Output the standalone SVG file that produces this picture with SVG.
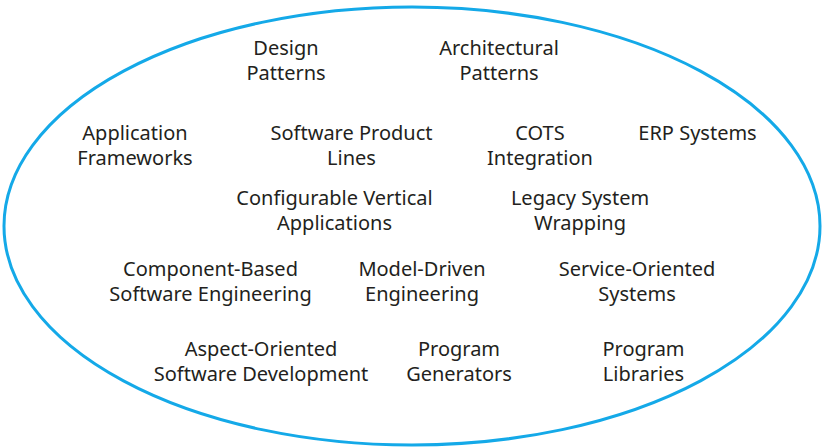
<svg xmlns="http://www.w3.org/2000/svg" width="824" height="447" viewBox="0 0 824 447">
<style>
.t{font-family:"Noto Sans","Open Sans",sans-serif;font-size:20px;fill:#231f20;text-anchor:middle}
.e{fill:none;stroke:#14a9e8;stroke-width:3}
</style>
<rect width="824" height="447" fill="#fff"/>
<g id="boundary"><ellipse class="e" cx="412" cy="226" rx="408" ry="219"/></g>
<g id="design-patterns"><text class="t" x="286" y="55">Design</text><text class="t" x="286" y="80">Patterns</text></g>
<g id="architectural-patterns"><text class="t" x="499" y="55">Architectural</text><text class="t" x="499" y="80">Patterns</text></g>
<g id="application-frameworks"><text class="t" x="135" y="140">Application</text><text class="t" x="135" y="165">Frameworks</text></g>
<g id="software-product-lines"><text class="t" x="351.5" y="140">Software Product</text><text class="t" x="351.5" y="165">Lines</text></g>
<g id="cots-integration"><text class="t" x="540" y="140">COTS</text><text class="t" x="540" y="165">Integration</text></g>
<g id="erp-systems"><text class="t" x="697.5" y="140">ERP Systems</text></g>
<g id="configurable-vertical-applications"><text class="t" x="334.5" y="205">Configurable Vertical</text><text class="t" x="334.5" y="230">Applications</text></g>
<g id="legacy-system-wrapping"><text class="t" x="580" y="205">Legacy System</text><text class="t" x="580" y="230">Wrapping</text></g>
<g id="cbse"><text class="t" x="210.5" y="276">Component-Based</text><text class="t" x="210.5" y="301">Software Engineering</text></g>
<g id="model-driven-engineering"><text class="t" x="422" y="276">Model-Driven</text><text class="t" x="422" y="301">Engineering</text></g>
<g id="service-oriented-systems"><text class="t" x="637" y="276">Service-Oriented</text><text class="t" x="637" y="301">Systems</text></g>
<g id="aspect-oriented"><text class="t" x="261" y="356">Aspect-Oriented</text><text class="t" x="261" y="381">Software Development</text></g>
<g id="program-generators"><text class="t" x="459" y="356">Program</text><text class="t" x="459" y="381">Generators</text></g>
<g id="program-libraries"><text class="t" x="643.5" y="356">Program</text><text class="t" x="643.5" y="381">Libraries</text></g>
</svg>
